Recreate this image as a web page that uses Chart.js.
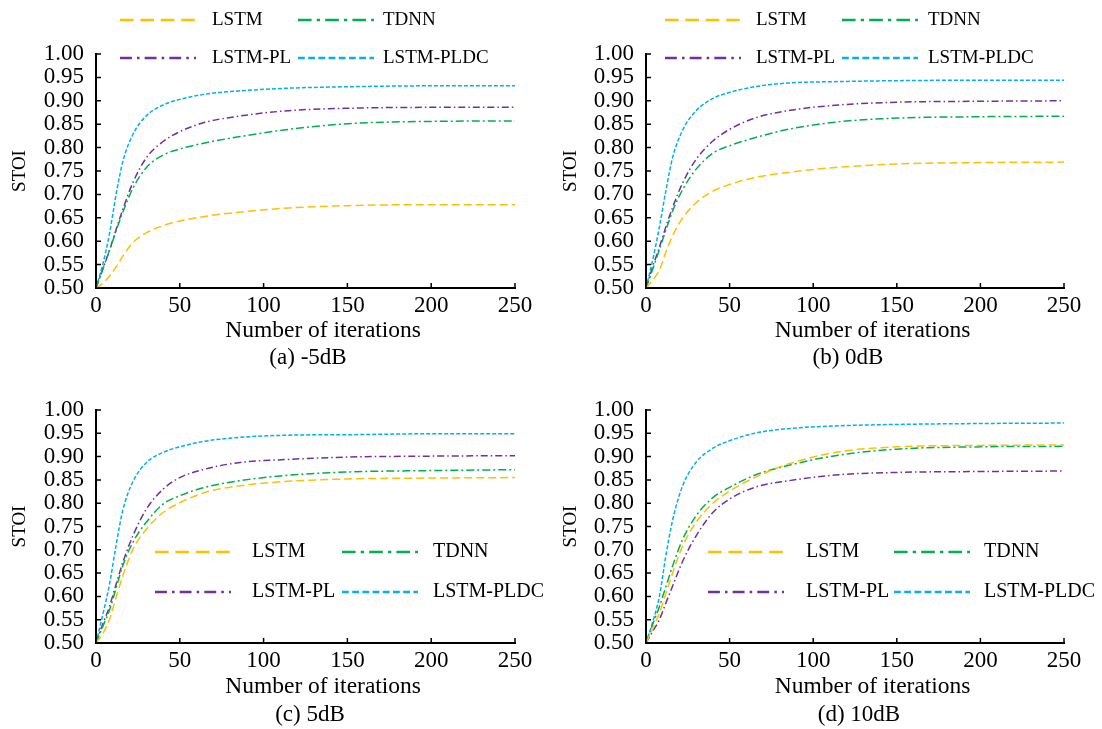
<!DOCTYPE html>
<html>
<head>
<meta charset="utf-8">
<script src="https://cdn.jsdelivr.net/npm/chart.js@4.4.0/dist/chart.umd.min.js"></script>
<style>
body { margin: 0; background: #fff; width: 1102px; height: 729px; position: relative; overflow: hidden; font-family: 'Liberation Serif', 'Times New Roman', serif; }
.panel { position: absolute; }
.caption { position: absolute; font-size: 23px; color: #000; transform: translate(-50%, -50%); white-space: nowrap; }
</style>
</head>
<body>
<div class="panel" style="left:0;top:0;width:551px;height:364px"><canvas id="chartA"></canvas></div>
<div class="panel" style="left:551px;top:0;width:551px;height:364px"><canvas id="chartB"></canvas></div>
<div class="panel" style="left:0;top:364px;width:551px;height:365px"><canvas id="chartC"></canvas></div>
<div class="panel" style="left:551px;top:364px;width:551px;height:365px"><canvas id="chartD"></canvas></div>
<div class="caption" style="left:308px;top:357px">(a) -5dB</div>
<div class="caption" style="left:848px;top:357px">(b) 0dB</div>
<div class="caption" style="left:310px;top:714px">(c) 5dB</div>
<div class="caption" style="left:859px;top:714px">(d) 10dB</div>
<script>
// 迭代次数
const iterations = [0, 4, 8, 12, 16, 22, 30, 40, 50, 65, 85, 115, 150, 200, 250];
const seriesNames = ['LSTM', 'TDNN', 'LSTM-PL', 'LSTM-PLDC'];
const yTicks = [0.50, 0.55, 0.60, 0.65, 0.70, 0.75, 0.80, 0.85, 0.90, 0.95, 1.00];

// (a) -5dB
const lstmA   = [0.50, 0.51, 0.525, 0.545, 0.568, 0.597, 0.618, 0.633, 0.643, 0.653, 0.662, 0.671, 0.676, 0.678, 0.678];
const tdnnA   = [0.50, 0.54, 0.58, 0.622, 0.662, 0.713, 0.757, 0.784, 0.797, 0.81, 0.823, 0.839, 0.851, 0.856, 0.857];
const plA     = [0.50, 0.54, 0.58, 0.625, 0.668, 0.725, 0.778, 0.813, 0.834, 0.854, 0.867, 0.879, 0.884, 0.886, 0.886];
const pldcA   = [0.50, 0.55, 0.615, 0.7, 0.77, 0.828, 0.868, 0.891, 0.903, 0.914, 0.921, 0.927, 0.930, 0.932, 0.932];

// (b) 0dB
const lstmB   = [0.50, 0.517, 0.538, 0.578, 0.612, 0.65, 0.682, 0.707, 0.721, 0.736, 0.747, 0.758, 0.765, 0.768, 0.769];
const tdnnB   = [0.50, 0.54, 0.582, 0.625, 0.665, 0.711, 0.754, 0.788, 0.804, 0.821, 0.839, 0.855, 0.863, 0.866, 0.867];
const plB     = [0.50, 0.545, 0.587, 0.632, 0.673, 0.725, 0.775, 0.814, 0.839, 0.863, 0.879, 0.891, 0.897, 0.899, 0.90];
const pldcB   = [0.50, 0.56, 0.63, 0.71, 0.78, 0.838, 0.879, 0.905, 0.918, 0.93, 0.938, 0.941, 0.943, 0.944, 0.944];

// (c) 5dB
const lstmC   = [0.50, 0.52, 0.55, 0.598, 0.644, 0.701, 0.744, 0.78, 0.801, 0.823, 0.837, 0.847, 0.852, 0.854, 0.855];
const tdnnC   = [0.50, 0.535, 0.57, 0.618, 0.666, 0.716, 0.759, 0.798, 0.816, 0.834, 0.848, 0.86, 0.867, 0.870, 0.872];
const plC     = [0.50, 0.54, 0.578, 0.626, 0.673, 0.73, 0.787, 0.83, 0.855, 0.873, 0.887, 0.894, 0.899, 0.901, 0.902];
const pldcC   = [0.50, 0.56, 0.625, 0.71, 0.785, 0.846, 0.887, 0.909, 0.921, 0.933, 0.941, 0.946, 0.947, 0.949, 0.949];

// (d) 10dB
const lstmD   = [0.50, 0.53, 0.564, 0.608, 0.651, 0.709, 0.759, 0.80, 0.826, 0.855, 0.884, 0.91, 0.921, 0.924, 0.925];
const tdnnD   = [0.50, 0.54, 0.578, 0.622, 0.666, 0.723, 0.773, 0.812, 0.834, 0.86, 0.881, 0.903, 0.916, 0.921, 0.922];
const plD     = [0.50, 0.525, 0.55, 0.587, 0.623, 0.676, 0.73, 0.78, 0.809, 0.834, 0.848, 0.861, 0.866, 0.868, 0.869];
const pldcD   = [0.50, 0.545, 0.6, 0.69, 0.765, 0.838, 0.888, 0.918, 0.934, 0.95, 0.96, 0.966, 0.969, 0.971, 0.972];

const colors = ['#FFC000', '#00B050', '#7030A0', '#00B0F0'];
const dashes = [[8, 4], [8, 3, 2, 3], [7, 3, 1.5, 3], [4, 2]];
const FONT = "'Liberation Serif', 'Times New Roman', serif";

// 图例 (两列两行，画在图内)
const legendGrid = {
    id: 'legendGrid',
    afterDraw(chart, args, opts) {
        const ctx = chart.ctx;
        const left = chart.chartArea.left;
        ctx.save();
        ctx.font = opts.size + 'px ' + FONT;
        ctx.textBaseline = 'middle';
        ctx.fillStyle = '#000';
        chart.data.datasets.forEach((ds, i) => {
            const col = i % 2, row = Math.floor(i / 2);
            const x0 = left + opts.cols[col];
            const y = opts.rows[row];
            ctx.strokeStyle = ds.borderColor;
            ctx.lineWidth = 2.5;
            ctx.setLineDash(ds.borderDash.map(d => d * 1.7));
            ctx.beginPath();
            ctx.moveTo(x0, y);
            ctx.lineTo(x0 + 76, y);
            ctx.stroke();
            ctx.setLineDash([]);
            ctx.fillText(ds.label, left + opts.texts[col], y);
        });
        ctx.restore();
    }
};

// 向内的刻度线
const innerTicks = {
    id: 'innerTicks',
    afterDatasetsDraw(chart) {
        const {ctx, chartArea: a, scales: {x, y}} = chart;
        ctx.save();
        ctx.strokeStyle = '#000';
        ctx.lineWidth = 1.5;
        ctx.beginPath();
        x.ticks.forEach(t => {
            const px = x.getPixelForValue(t.value);
            ctx.moveTo(px, a.bottom);
            ctx.lineTo(px, a.bottom - 5);
        });
        y.ticks.forEach(t => {
            const py = y.getPixelForValue(t.value);
            ctx.moveTo(a.left, py);
            ctx.lineTo(a.left + 5, py);
        });
        ctx.stroke();
        ctx.restore();
    }
};

function makeChart(id, series, cfg) {
    const ctx = document.getElementById(id).getContext('2d');
    return new Chart(ctx, {
        type: 'line',
        data: {
            labels: iterations,
            datasets: series.map((vals, i) => ({
                label: seriesNames[i],
                data: iterations.map((it, k) => ({x: it, y: vals[k]})),
                borderColor: colors[i],
                borderDash: dashes[i],
                borderWidth: 1.5,
                pointRadius: 0,
                fill: false,
                cubicInterpolationMode: 'monotone'
            }))
        },
        options: {
            responsive: true,
            maintainAspectRatio: false,
            animation: false,
            layout: {
                padding: {top: cfg.top, right: cfg.right, left: 0, bottom: 0}
            },
            plugins: {
                legend: {display: false},
                tooltip: {enabled: false},
                legendGrid: cfg.legend
            },
            scales: {
                x: {
                    type: 'linear',
                    min: 0,
                    max: 250,
                    afterFit: s => { s.height = cfg.xHeight; },
                    grid: {drawOnChartArea: false, drawTicks: false},
                    border: {color: '#000', width: 2},
                    ticks: {
                        stepSize: 50,
                        padding: 4,
                        color: '#000',
                        font: {family: FONT, size: 23}
                    },
                    title: {
                        display: true,
                        text: '      Number of iterations',
                        color: '#000',
                        font: {family: FONT, size: 23.5},
                        padding: {top: 0, bottom: cfg.xTitlePad}
                    }
                },
                y: {
                    min: 0.5,
                    max: 1.0,
                    afterFit: s => { s.width = cfg.yWidth; },
                    afterBuildTicks: s => { s.ticks = yTicks.map(v => ({value: v})); },
                    grid: {drawOnChartArea: false, drawTicks: false},
                    border: {color: '#000', width: 2},
                    ticks: {
                        autoSkip: false,
                        padding: 12,
                        color: '#000',
                        font: {family: FONT, size: 23},
                        callback: v => v.toFixed(2)
                    },
                    title: {
                        display: true,
                        text: 'STOI',
                        color: '#000',
                        font: {family: FONT, size: 19},
                        padding: {top: 9, bottom: 0}
                    }
                }
            }
        },
        plugins: [innerTicks, legendGrid]
    });
}

makeChart('chartA', [lstmA, tdnnA, plA, pldcA], {
    top: 54, right: 36, yWidth: 96, xHeight: 76, xTitlePad: 19,
    legend: {size: 19, cols: [24, 202], texts: [116, 287], rows: [20, 58]}
});
makeChart('chartB', [lstmB, tdnnB, plB, pldcB], {
    top: 54, right: 38, yWidth: 95, xHeight: 76, xTitlePad: 19,
    legend: {size: 19, cols: [19, 196], texts: [110, 282], rows: [20, 58]}
});
makeChart('chartC', [lstmC, tdnnC, plC, pldcC], {
    top: 46, right: 36, yWidth: 96, xHeight: 86, xTitlePad: 28,
    legend: {size: 20, cols: [59, 246], texts: [156, 337], rows: [188, 228]}
});
makeChart('chartD', [lstmD, tdnnD, plD, pldcD], {
    top: 46, right: 38, yWidth: 95, xHeight: 86, xTitlePad: 28,
    legend: {size: 20, cols: [62, 248], texts: [160, 338], rows: [188, 228]}
});
</script>
</body>
</html>
